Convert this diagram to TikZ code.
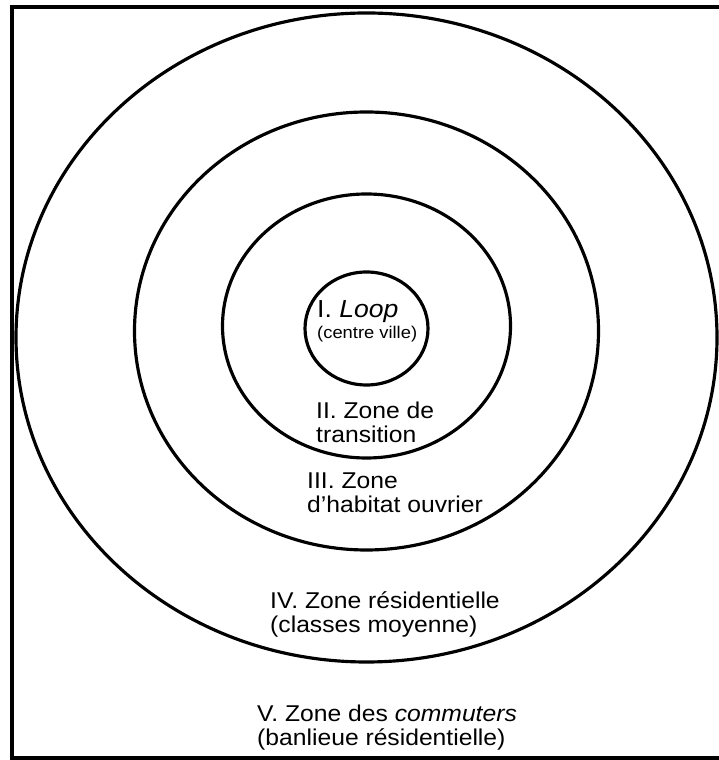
\documentclass[tikz,border=0pt]{standalone}
\usepackage{fontspec}
\setmainfont{Liberation Sans}[FakeStretch=1.08]

\begin{document}
\begin{tikzpicture}[x=0.3mm, y=0.3mm,
  zone/.style={align=left, inner sep=0, anchor=base west, font=\fontsize{19.5}{21.3}\selectfont}]
\useasboundingbox (0,0) rectangle (718,760);
\draw[black, line width=1.2mm] (12,2) rectangle (726,753);
\foreach \cy/\rx/\ry in {422.5/350.5/324.5, 429/232/219, 434/144/132, 431.5/61.5/56.5} {
 \draw[black, line width=0.95mm] (366.5,\cy) ellipse [x radius=\rx, y radius=\ry];
}
% base = last line
\node[zone] (loop) at (317,421) {{\fontsize{21}{21.3}\selectfont I.\ \textit{Loop}}\\[-3pt] {\fontsize{14.5}{15}\selectfont (centre ville)}};
\node[zone] (transition) at (316,317) {II. Zone de\\ transition};
\node[zone] (ouvrier) at (307,247) {III. Zone\\ d’habitat ouvrier};
\node[zone] (residentielle) at (270,127) {IV. Zone résidentielle\\ (classes moyenne)};
\node[zone] (commuters) at (257,14) {V. Zone des \textit{commuters}\\ (banlieue résidentielle)};
\end{tikzpicture}
\end{document}
